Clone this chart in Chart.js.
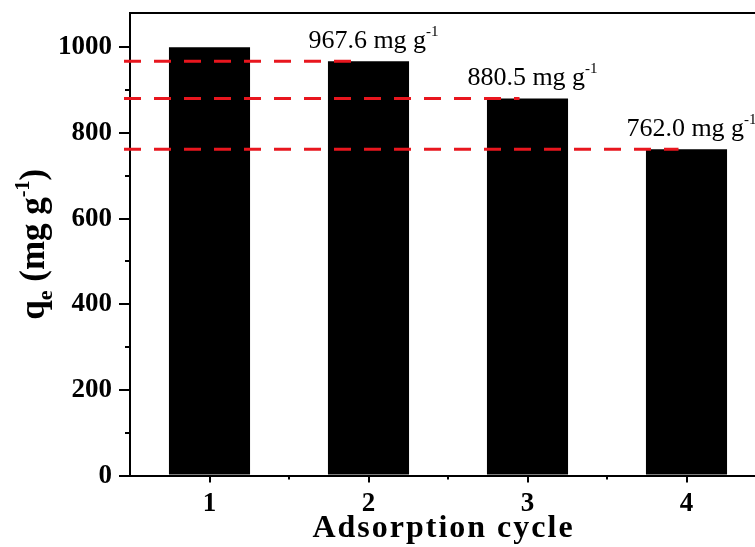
<!DOCTYPE html>
<html>
<head>
<meta charset="utf-8">
<script src="https://cdn.jsdelivr.net/npm/chart.js@4.4.1/dist/chart.umd.min.js"></script>
<style>
  html, body { margin: 0; padding: 0; background: #fff; overflow: hidden; }
  #wrap { width: 800px; height: 547px; position: relative; }
</style>
</head>
<body>
<div id="wrap"><canvas id="myChart"></canvas></div>
<script>
// data
const cycles = ['1', '2', '3', '4'];
const qe = [1000, 967.6, 880.5, 762.0];
const yTicks = [0, 200, 400, 600, 800, 1000];
const yMinorTicks = [100, 300, 500, 700, 900];
// red dashed reference levels, each ending at the bar it belongs to
const levelValues = [967.6, 880.5, 762.0];
const levelBars = [1, 2, 3];
const levelLabels = ['967.6 mg g', '880.5 mg g', '762.0 mg g'];

const serif = '"Liberation Serif", "Times New Roman", serif';

function partsWidth(ctx, parts) {
  let w = 0;
  parts.forEach(p => {
    ctx.font = (p.weight || 'normal') + ' ' + p.size + 'px ' + serif;
    w += ctx.measureText(p.text).width;
  });
  return w;
}

function drawParts(ctx, parts, cx, baseY) {
  let x = cx - partsWidth(ctx, parts) / 2;
  ctx.textAlign = 'left';
  ctx.textBaseline = 'alphabetic';
  parts.forEach(p => {
    ctx.font = (p.weight || 'normal') + ' ' + p.size + 'px ' + serif;
    ctx.fillText(p.text, x, baseY + (p.dy || 0));
    x += ctx.measureText(p.text).width;
  });
}

const extras = {
  id: 'extras',
  afterDatasetsDraw(chart) {
    const { ctx, chartArea, scales: { x, y } } = chart;
    ctx.save();
    ctx.strokeStyle = '#000';
    ctx.lineWidth = 2;

    // top frame line
    ctx.beginPath();
    ctx.moveTo(chartArea.left - 1, chartArea.top);
    ctx.lineTo(chartArea.right + 1, chartArea.top);
    ctx.stroke();

    // minor ticks
    ctx.beginPath();
    yMinorTicks.forEach(v => {
      const py = Math.round(y.getPixelForValue(v));
      ctx.moveTo(chartArea.left - 5, py);
      ctx.lineTo(chartArea.left, py);
    });
    for (let i = 0; i < cycles.length; i++) {
      const px = Math.round(x.getPixelForValue(i + 0.5));
      ctx.moveTo(px, chartArea.bottom);
      ctx.lineTo(px, chartArea.bottom + 4);
    }
    ctx.stroke();

    // red dashed levels
    ctx.strokeStyle = '#e8161e';
    ctx.lineWidth = 3;
    ctx.setLineDash([17, 13]);
    levelValues.forEach((v, i) => {
      const py = y.getPixelForValue(v);
      ctx.beginPath();
      ctx.moveTo(chartArea.left - 6, py);
      ctx.lineTo(x.getPixelForValue(levelBars[i]) - 8, py);
      ctx.stroke();
    });
    ctx.setLineDash([]);

    // level labels
    ctx.fillStyle = '#000';
    levelValues.forEach((v, i) => {
      const px = x.getPixelForValue(levelBars[i]) + 5;
      const py = y.getPixelForValue(v) - 13;
      drawParts(ctx, [
        { text: levelLabels[i], size: 26 },
        { text: '-1', size: 15, dy: -12 }
      ], px, py);
    });

    // x title
    ctx.letterSpacing = '2px';
    drawParts(ctx, [{ text: 'Adsorption cycle', size: 32, weight: 'bold' }],
      (chartArea.left + 755) / 2 + 1, 537);
    ctx.letterSpacing = '0px';

    // y title
    ctx.translate(44, (chartArea.top + chartArea.bottom) / 2);
    ctx.rotate(-Math.PI / 2);
    drawParts(ctx, [
      { text: 'q', size: 35, weight: 'bold' },
      { text: 'e', size: 22, weight: 'bold', dy: 8 },
      { text: ' (mg g', size: 35, weight: 'bold' },
      { text: '-1', size: 20, weight: 'bold', dy: -15 },
      { text: ')', size: 35, weight: 'bold' }
    ], 0, 0);
    ctx.restore();
  }
};

const tickFont = { family: serif, size: 27, weight: 'bold' };

new Chart(document.getElementById('myChart'), {
  type: 'bar',
  data: {
    labels: cycles,
    datasets: [{
      data: qe,
      backgroundColor: '#000',
      borderWidth: 0,
      barPercentage: 0.51,
      categoryPercentage: 1
    }]
  },
  options: {
    responsive: true,
    maintainAspectRatio: false,
    animation: false,
    layout: { padding: { left: 51, top: 13, right: 34, bottom: 22 } },
    plugins: { legend: { display: false }, tooltip: { enabled: false } },
    scales: {
      x: {
        offset: true,
        grid: { offset: false, drawOnChartArea: false, tickLength: 7, color: '#000', lineWidth: 2 },
        border: { display: true, color: '#000', width: 2 },
        ticks: { color: '#000', font: tickFont, padding: 5 }
      },
      y: {
        min: 0,
        max: 1080,
        afterBuildTicks: scale => { scale.ticks = yTicks.map(v => ({ value: v })); },
        afterFit: scale => { scale.paddingTop = 0; scale.paddingBottom = 0; },
        grid: { drawOnChartArea: false, tickLength: 11, color: '#000', lineWidth: 2 },
        border: { display: true, color: '#000', width: 2 },
        ticks: { color: '#000', font: tickFont, padding: 7, callback: v => String(v) }
      }
    }
  },
  plugins: [extras]
});
</script>
</body>
</html>
